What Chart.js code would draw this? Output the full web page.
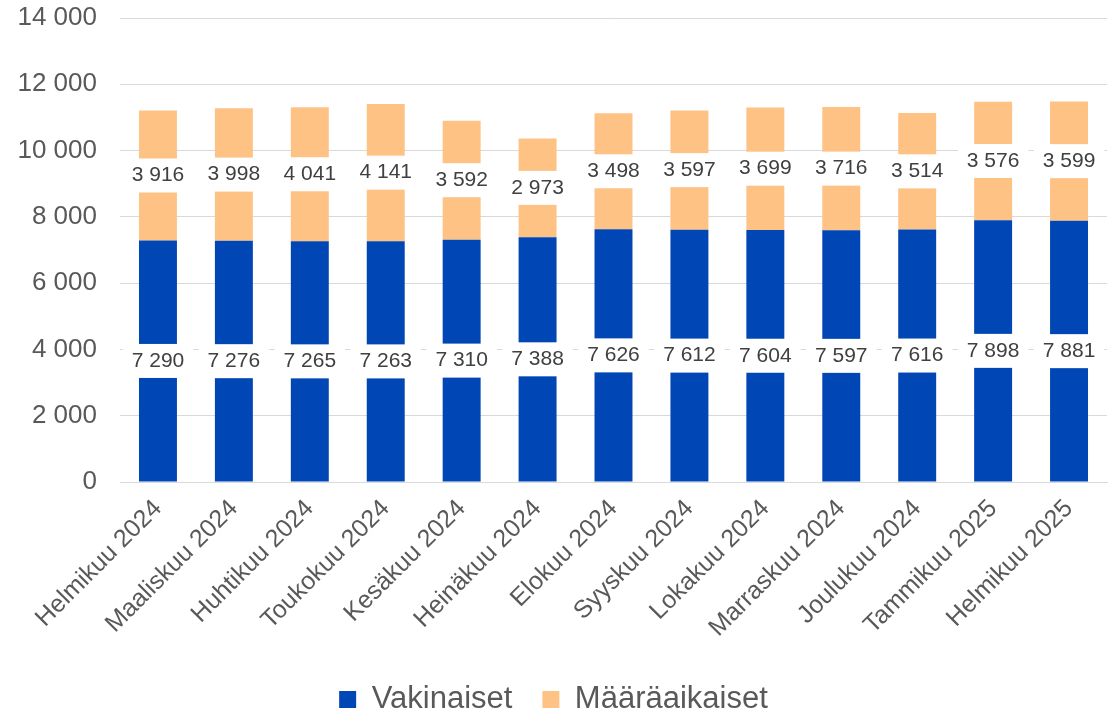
<!DOCTYPE html>
<html>
<head>
<meta charset="utf-8">
<script src="https://cdn.jsdelivr.net/npm/chart.js@4.4.1/dist/chart.umd.min.js"></script>
<style>
html,body{margin:0;padding:0;background:#fff;}
#wrap{width:1114px;height:710px;position:relative;}
</style>
</head>
<body>
<div id="wrap"><canvas id="c" width="1114" height="710"></canvas></div>
<script>
const categories = ["Helmikuu 2024","Maaliskuu 2024","Huhtikuu 2024","Toukokuu 2024","Kesäkuu 2024","Heinäkuu 2024","Elokuu 2024","Syyskuu 2024","Lokakuu 2024","Marraskuu 2024","Joulukuu 2024","Tammikuu 2025","Helmikuu 2025"];
const vakinaiset = [7290,7276,7265,7263,7310,7388,7626,7612,7604,7597,7616,7898,7881];
const maaraaikaiset = [3916,3998,4041,4141,3592,2973,3498,3597,3699,3716,3514,3576,3599];
const seriesNames = ["Vakinaiset","Määräaikaiset"];
const yMin = 0, yMax = 14000, yStep = 2000;

const FONT = "'Liberation Sans', Arial, sans-serif";
function fmt(n){ return String(n).replace(/\B(?=(\d{3})+(?!\d))/g, ' '); }

const labelPlugin = {
  id: 'segLabels',
  afterDatasetsDraw(chart){
    const ctx = chart.ctx;
    ctx.save();
    ctx.font = "21px " + FONT;
    ctx.textAlign = 'center';
    ctx.textBaseline = 'middle';
    chart.data.datasets.forEach((ds, di) => {
      const meta = chart.getDatasetMeta(di);
      meta.data.forEach((el, i) => {
        const p = el.getProps(['x','y','base'], true);
        const cy = (p.y + p.base) / 2;
        const txt = fmt(ds.data[i]);
        const w = ctx.measureText(txt).width + 18;
        const h = 34;
        ctx.fillStyle = '#ffffff';
        ctx.fillRect(p.x - w/2, cy - h/2, w, h);
        ctx.fillStyle = '#404040';
        ctx.fillText(txt, p.x, cy);
      });
    });
    ctx.restore();
  }
};

new Chart(document.getElementById('c'), {
  type: 'bar',
  data: {
    labels: categories,
    datasets: [
      { label: seriesNames[0], data: vakinaiset, backgroundColor: '#0047B5', borderWidth: 0 },
      { label: seriesNames[1], data: maaraaikaiset, backgroundColor: '#FFC285', borderWidth: 0 }
    ]
  },
  options: {
    responsive: false,
    animation: false,
    devicePixelRatio: 1,
    layout: { padding: { left: 0, right: 7, top: 18, bottom: -15 } },
    datasets: { bar: { barPercentage: 0.5, categoryPercentage: 1.0 } },
    plugins: {
      legend: {
        position: 'bottom',
        labels: {
          font: { size: 31, family: FONT },
          color: '#595959',
          boxWidth: 17,
          boxHeight: 17,
          padding: 30
        }
      },
      tooltip: { enabled: false }
    },
    scales: {
      x: {
        stacked: true,
        grid: { display: false, drawTicks: false },
        border: { display: true, color: '#d9d9d9', width: 1 },
        ticks: {
          font: { size: 25, family: FONT },
          color: '#595959',
          maxRotation: 45,
          minRotation: 45,
          padding: 12,
          autoSkip: false
        },
        afterFit(scale){ scale.height = 172; }
      },
      y: {
        stacked: true,
        min: yMin, max: yMax,
        grid: { color: '#d9d9d9', lineWidth: 1, drawTicks: false },
        border: { display: false },
        ticks: {
          stepSize: yStep,
          font: { size: 26, family: FONT },
          color: '#595959',
          padding: 23,
          callback: v => fmt(v)
        },
        afterFit(scale){ scale.width = 120; scale.paddingTop = 0; scale.paddingBottom = 0; }
      }
    }
  },
  plugins: [labelPlugin]
});
</script>
</body>
</html>
